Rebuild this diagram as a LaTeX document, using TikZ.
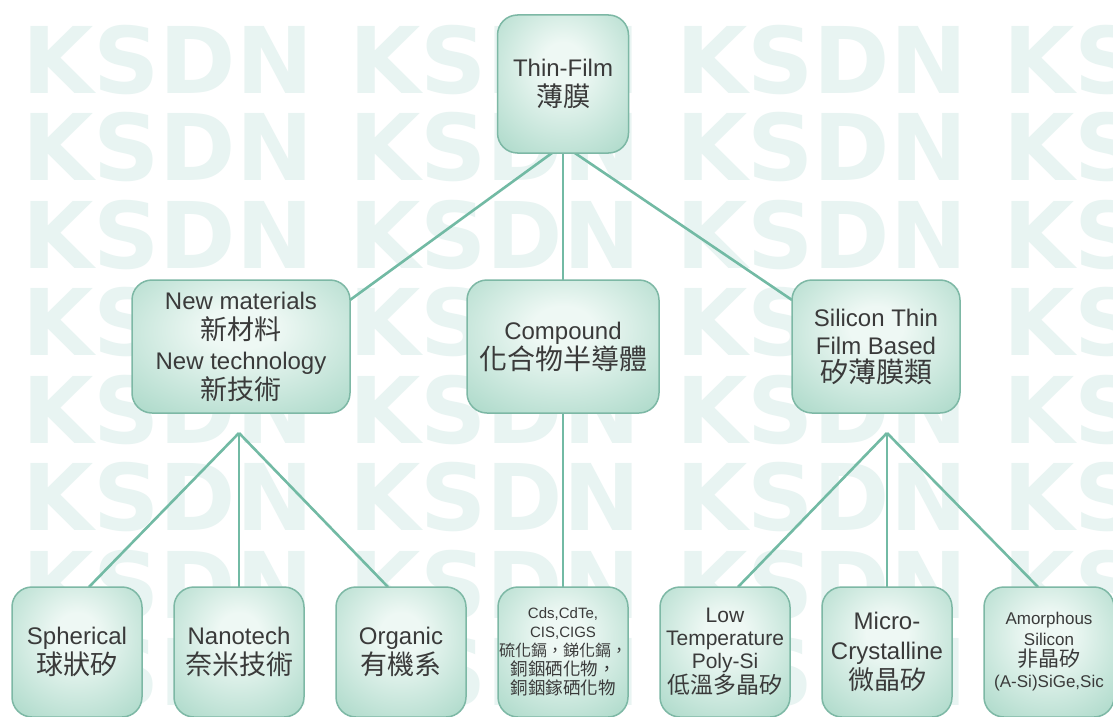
\documentclass[tikz,border=0pt]{standalone}
\usepackage{fontspec}
\setmainfont{Liberation Sans}
\newfontfamily\cjk{Noto Sans CJK TC}
\newfontfamily\wmfont{DejaVu Sans}
\usetikzlibrary{positioning, backgrounds}

\definecolor{mintlight}{HTML}{EEF8F4}
\definecolor{mintdark}{HTML}{96CFBB}
\definecolor{cardedge}{HTML}{7DB8A5}
\definecolor{linkteal}{HTML}{72BAA4}
\definecolor{inkgray}{HTML}{3A3A3A}
\definecolor{wmteal}{HTML}{E8F4F2}

\pgfdeclareradialshading{cardshade}{\pgfpoint{0bp}{8bp}}{color(0bp)=(mintlight); color(8bp)=(mintlight); color(48bp)=(mintdark); color(75bp)=(mintdark)}

\newcommand{\zh}[2][27]{{\cjk\fontsize{#1}{#1}\selectfont #2}}

\begin{document}
\begin{tikzpicture}[
    x=1pt, y=-1pt,
    card/.style={rectangle, rounded corners=20pt, draw=cardedge, line width=1.5pt, shading=cardshade, align=center, text=inkgray, inner sep=0pt, outer sep=0pt, minimum width=130pt, minimum height=130pt, font=\fontsize{24}{30}\selectfont},
    link/.style={draw=linkteal, line width=2.6pt},
    wmark/.style={anchor=base west, inner sep=0pt, text=wmteal, font=\wmfont\bfseries\fontsize{92}{92}\selectfont},
]
\useasboundingbox (0,0) rectangle (1113,717);

% bottom row
\node[card] (spher) at (77,652) {Spherical\\\zh{球狀矽}};
\node[card, right=32pt of spher] (nano) {Nanotech\\\zh{奈米技術}};
\node[card, right=32pt of nano] (organic) {Organic\\\zh{有機系}};
\node[card, right=32pt of organic, font=\fontsize{15}{19}\selectfont] (cds) {Cds,CdTe,\\CIS,CIGS\\\zh[16]{硫化鎘，銻化鎘，}\\\zh[17.5]{銅銦硒化物，}\\\zh[17.5]{銅銦鎵硒化物}};
\node[card, right=32pt of cds, font=\fontsize{21}{23}\selectfont] (lowtemp) {Low\\Temperature\\Poly-Si\\\zh[23]{低溫多晶矽}};
\node[card, right=32pt of lowtemp] (micro) {Micro-\\Crystalline\\\zh[26]{微晶矽}};
\node[card, right=32pt of micro, font=\fontsize{17}{21}\selectfont] (amorph) {Amorphous\\Silicon\\\zh[21]{非晶矽}\\(A-Si)SiGe,Sic};

% middle row
\node[card, minimum width=218pt, minimum height=133pt, above=174pt of nano, xshift=2pt] (newmat) {New materials\\\zh{新材料}\\New technology\\\zh{新技術}};
\node[card, minimum width=192pt, minimum height=133pt, above=174pt of cds] (compound) {Compound\\\zh[28]{化合物半導體}};
\node[card, minimum width=168pt, minimum height=133pt, above=174pt of micro, xshift=-11pt, font=\fontsize{24}{28}\selectfont] (silicon) {Silicon Thin\\Film Based\\\zh[28]{矽薄膜類}};

% root
\node[card, minimum width=131pt, minimum height=138pt, above=127pt of compound] (thin) {Thin-Film\\\zh{薄膜}};

\coordinate (thinhub) at ([yshift=8pt]thin.south);
\coordinate (nmhub) at ([yshift=154pt]nano.north);
\coordinate (sihub) at ([yshift=154pt]micro.north);

\begin{scope}[on background layer]
\fill[white] (0,0) rectangle (1113,717);
\foreach \r in {0,...,7}
  \foreach \c in {0,...,3}
    \node[wmark] (wm-\r-\c) at (22+327*\c, 93+87.5*\r) {KSDN};

\draw[link] (thinhub) -- ([yshift=-20pt]newmat.north east);
\draw[link] (thinhub) -- (compound.north);
\draw[link] (thinhub) -- ([yshift=-20pt]silicon.north west);
\draw[link] (compound) -- (cds);
\draw[link] (nmhub) -- ([xshift=12pt]spher.north);
\draw[link] (nmhub) -- (nano.north);
\draw[link] (nmhub) -- ([xshift=-13pt]organic.north);
\draw[link] (sihub) -- ([xshift=13pt]lowtemp.north);
\draw[link] (sihub) -- (micro.north);
\draw[link] (sihub) -- ([xshift=-11pt]amorph.north);
\end{scope}
\end{tikzpicture}
\end{document}
